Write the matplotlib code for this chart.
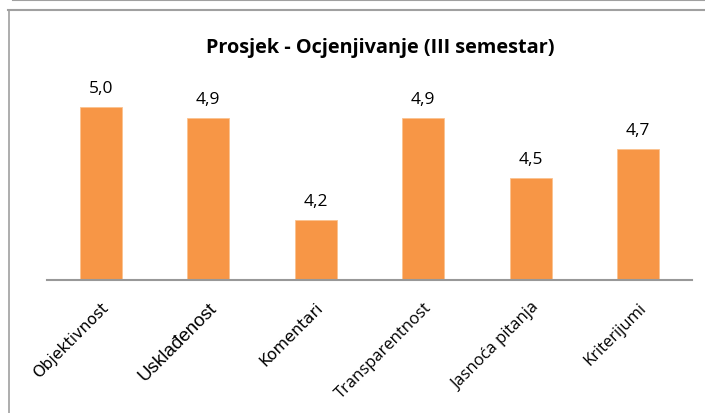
import matplotlib.pyplot as plt
from matplotlib.lines import Line2D

categories = ["Objektivnost", "Usklađenost", "Komentari", "Transparentnost",
              "Jasnoća pitanja", "Kriterijumi"]
values = [5.0, 4.92, 4.2, 4.92, 4.5, 4.7]
value_labels = ["5,0", "4,9", "4,2", "4,9", "4,5", "4,7"]
# the source mixes fonts in the tick labels
label_fonts = [("DejaVu Sans", 11.3), ("Liberation Sans", 13.5), ("DejaVu Sans", 11.5),
               ("Open Sans", 12), ("Open Sans", 12), ("Open Sans", 12)]

W, H = 705, 414
fig = plt.figure(figsize=(W / 100, H / 100), dpi=100)

# frame of the chart area (top line belongs to the chart above)
fig.add_artist(Line2D([13 / W, 1], [1 - 1 / H, 1 - 1 / H], color="#a0a0a0", lw=1.5))
fig.add_artist(Line2D([8 / W, 1], [1 - 11 / H, 1 - 11 / H], color="#a0a0a0", lw=1.5))
fig.add_artist(Line2D([8.5 / W, 8.5 / W], [0, 1 - 11 / H], color="#a0a0a0", lw=1.2))

ymin, ymax = 3.784, 5.2
ax_bottom = 1 - 280.5 / H
ax_top_px = 280.5 - (ymax - ymin) * 142
ax = fig.add_axes([47 / W, ax_bottom, (692 - 47) / W, (280.5 - ax_top_px) / H])

x = range(len(categories))
ax.bar(x, [v - ymin for v in values], bottom=ymin, width=0.39, color="#f79646",
       edgecolor="#fbc28f", linewidth=0.6)
ax.set_ylim(ymin, ymax)
ax.set_xlim(-0.5, len(categories) - 0.5)

for i, v in enumerate(values):
    ax.annotate(value_labels[i], (i, v), xytext=(0, 8), textcoords="offset points",
                ha="center", va="bottom", fontsize=12.5, family="Open Sans", color="#000000")

for s in ["top", "right", "left"]:
    ax.spines[s].set_visible(False)
ax.spines["bottom"].set_color("#989898")
ax.spines["bottom"].set_linewidth(1.5)
ax.set_yticks([])
ax.set_xticks(list(x))
ax.set_xticklabels(categories)
ax.tick_params(axis="x", length=0, pad=14)
for lbl, (fam, sz) in zip(ax.get_xticklabels(), label_fonts):
    lbl.set_rotation(45)
    lbl.set_ha("right")
    lbl.set_rotation_mode("anchor")
    lbl.set_family(fam)
    lbl.set_fontsize(sz)

fig.text(380 / W, 1 - 48 / H, "Prosjek - Ocjenjivanje (III semestar)", ha="center",
         va="center", fontsize=14.3, fontweight="bold", family="Open Sans")

fig.savefig("out.png", dpi=100)
